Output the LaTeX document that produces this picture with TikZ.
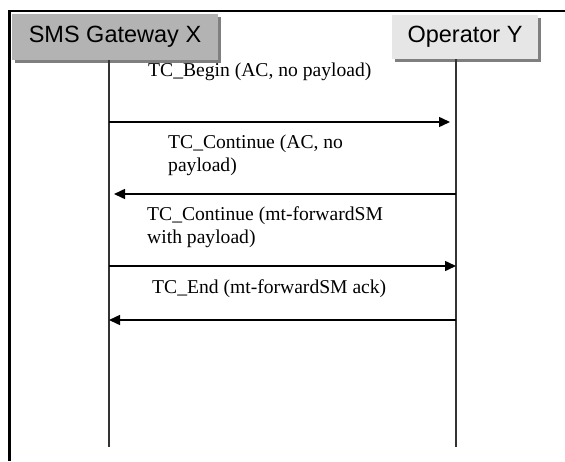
\documentclass[tikz,border=0pt]{standalone}
\usepackage{fontspec}
\setmainfont{Liberation Serif}
\newfontfamily\boxfont{Liberation Sans}
\usetikzlibrary{arrows.meta,shadows}
\definecolor{gwfill}{HTML}{B3B3B3}
\definecolor{opfill}{HTML}{E6E6E6}
\definecolor{shadowgray}{HTML}{7F7F7F}
\begin{document}
\begin{tikzpicture}[x=1pt,y=-1pt,
  actor/.style={inner sep=0pt, font=\boxfont\fontsize{23.5}{26}\selectfont,
    drop shadow={shadow xshift=2.5pt, shadow yshift=-2.5pt, fill=shadowgray, opacity=1}},
  lifeline/.style={line width=1.3pt, black!80},
  msg/.style={line width=1.5pt, -{Triangle[length=11pt,width=10pt]}},
  lbl/.style={anchor=base west, inner sep=0pt, align=left,
    font=\fontsize{19.6}{23}\selectfont}]
\useasboundingbox (0,0) rectangle (565,461);
% frame (top and left edges)
\draw[line width=2.5pt] (565,11) -- (9.5,11) -- (9.5,461);
% actors
\node[actor, fill=gwfill, minimum width=206pt, minimum height=46pt] (gw) at (115,37) {SMS Gateway X};
\node[actor, fill=opfill, minimum width=146pt, minimum height=44pt] (op) at (465,37) {Operator Y};
% lifelines
\coordinate (gwtop) at (109,60);
\coordinate (gwbot) at (109,447);
\coordinate (optop) at (456,59);
\coordinate (opbot) at (456,447);
\draw[lifeline] (gwtop) -- (gwbot);
\draw[lifeline] (optop) -- (opbot);
% message end points
\coordinate (m1s) at (109,122); \coordinate (m1e) at (450,122);
\coordinate (m2s) at (456,194); \coordinate (m2e) at (114,194);
\coordinate (m3s) at (109,266); \coordinate (m3e) at (456,266);
\coordinate (m4s) at (456,320); \coordinate (m4e) at (109,320);
\draw[msg] (m1s) -- (m1e);
\draw[msg] (m2s) -- (m2e);
\draw[msg] (m3s) -- (m3e);
\draw[msg] (m4s) -- (m4e);
% labels (base anchor = baseline of last line)
\node[lbl] (l1) at (148,76) {TC\_Begin (AC, no payload)};
\node[lbl] (l2) at (168,171) {TC\_Continue (AC, no\\payload)};
\node[lbl] (l3) at (147,243) {TC\_Continue (mt-forwardSM\\with payload)};
\node[lbl] (l4) at (152,293) {TC\_End (mt-forwardSM ack)};
\end{tikzpicture}
\end{document}
